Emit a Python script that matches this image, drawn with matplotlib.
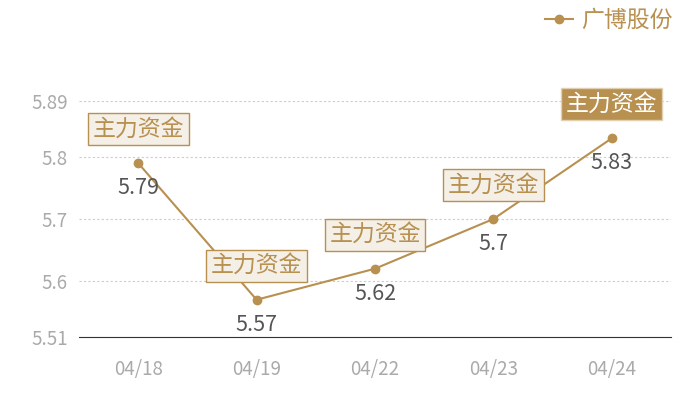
import matplotlib
matplotlib.use("Agg")
from matplotlib import pyplot as plt

plt.rcParams['font.family'] = ['Noto Sans CJK SC', 'DejaVu Sans']

#chart data
dates = ["04/18", "04/19", "04/22", "04/23", "04/24"]
prices = [5.79, 5.57, 5.62, 5.70, 5.83]
yticks = [5.51, 5.6, 5.7, 5.8, 5.89]
tag = "主力资金"
series_name = "广博股份"

gold = "#b8904f"

fig = plt.figure(figsize=(7, 4), dpi=100)
ax = fig.add_axes([79 / 700, 1 - 337 / 400, (671 - 79) / 700, (337 - 101) / 400])

x = list(range(len(dates)))
ax.plot(x, prices, color=gold, lw=1.5, marker="o", ms=6, label=series_name, zorder=3)

ax.set_xlim(-0.5, len(dates) - 0.5)
ax.set_ylim(yticks[0], yticks[-1])
ax.set_yticks(yticks)
ax.set_yticklabels([f"{v:g}" for v in yticks])
ax.set_xticks(x)
ax.set_xticklabels(dates)
ax.tick_params(length=0, labelsize=13.5, colors="#aaaaaa")
ax.tick_params(axis="x", pad=16)
ax.tick_params(axis="y", pad=8)

for s in ["top", "right", "left"]:
    ax.spines[s].set_visible(False)
ax.spines["bottom"].set_color("#333333")
ax.yaxis.grid(True, linestyle=(0, (2, 2)), color="#cccccc", lw=0.8)
ax.set_axisbelow(True)

#value labels and tag boxes
for i, v in enumerate(prices):
    ax.annotate(f"{v:g}", (i, v), xytext=(0, -25), textcoords="offset pixels",
                ha="center", va="center", fontsize=15.5, color="#555555", zorder=4)
    last = i == len(prices) - 1
    ax.annotate(tag, (i, v), xytext=(0, 34), textcoords="offset pixels",
                ha="center", va="center", fontsize=16.5,
                color="white" if last else gold, zorder=5,
                bbox=dict(boxstyle="square,pad=0.2",
                          fc=gold if last else "#f4efe7",
                          ec="#e0cfb0" if last else gold, lw=1))

leg = fig.legend(loc="upper right", bbox_to_anchor=(0.99, 1.03), frameon=False,
                 fontsize=16.5, handlelength=1.2, handletextpad=0.35)
for t in leg.get_texts():
    t.set_color(gold)

fig.savefig("out.png", dpi=100)
